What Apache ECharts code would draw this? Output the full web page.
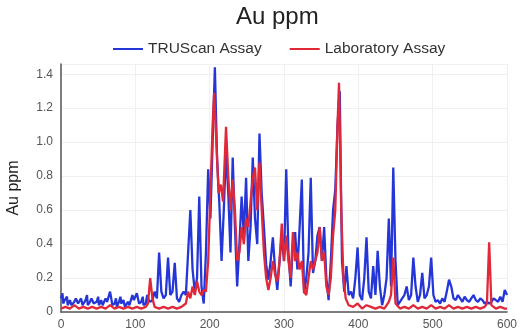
<!DOCTYPE html>
<html>
<head>
<meta charset="utf-8">
<script src="https://cdn.jsdelivr.net/npm/echarts@6/dist/echarts.min.js"></script>
<style>html,body{margin:0;padding:0;background:#fff}#c{width:528px;height:335px}</style>
</head>
<body>
<div id="c"></div>
<script>
var titleText = 'Au ppm';
var seriesNames = ['TRUScan Assay', 'Laboratory Assay'];
var xTicks = [0, 100, 200, 300, 400, 500, 600];
var yTicks = [0, 0.2, 0.4, 0.6, 0.8, 1.0, 1.2, 1.4];

var truscan = [
[0,0.08],[2,0.11],[3,0.05],[5,0.07],[6,0.06],[8,0.09],[9,0.04],[12,0.07],[14,0.04],[15,0.05],[18,0.06],[20,0.08],[21,0.09],[23,0.05],[24,0.06],[27,0.08],
[29,0.04],[30,0.05],[33,0.07],[35,0.1],[36,0.04],[39,0.06],[41,0.08],[42,0.09],[44,0.05],[45,0.05],[48,0.06],[50,0.09],[51,0.04],[54,0.07],[56,0.04],[57,0.05],
[60,0.08],[62,0.06],[63,0.05],[66,0.12],[68,0.07],[69,0.04],[72,0.05],[74,0.08],[75,0.03],[78,0.06],[80,0.09],[81,0.05],[84,0.07],[86,0.03],[87,0.04],
[90,0.06],[92,0.04],[93,0.05],[96,0.1],[98,0.07],[99,0.06],[102,0.11],[104,0.07],[105,0.05],[108,0.06],[110,0.09],[111,0.04],[114,0.05],[116,0.1],[117,0.08],
[120,0.06],[123,0.07],[126,0.12],[129,0.08],[132,0.35],[135,0.12],[138,0.08],[141,0.1],[144,0.32],[147,0.1],
[150,0.12],[153,0.29],[156,0.08],[159,0.06],[162,0.1],[165,0.12],[168,0.1],[171,0.35],[174,0.6],[177,0.25],
[180,0.12],[183,0.2],[186,0.68],[189,0.15],[192,0.05],[195,0.35],[198,0.84],[201,0.55],[204,1.0],[207,1.44],
[210,0.9],[213,0.64],[216,0.3],[219,0.6],[222,0.95],[225,0.7],[228,0.35],[231,0.91],[234,0.5],[237,0.15],
[240,0.4],[243,0.68],[246,0.45],[249,0.79],[252,0.3],[255,0.5],[258,0.91],[261,0.55],[264,0.4],[267,1.05],
[270,0.7],[273,0.5],[276,0.28],[279,0.19],[282,0.3],[285,0.44],[288,0.25],[291,0.13],[294,0.3],[297,0.45],
[300,0.3],[303,0.84],[306,0.35],[309,0.15],[312,0.4],[315,0.47],[318,0.25],[321,0.5],[324,0.78],[327,0.11],
[330,0.2],[333,0.35],[336,0.79],[339,0.23],[342,0.3],[345,0.45],[348,0.5],[351,0.3],[354,0.5],[357,0.2],
[360,0.07],[363,0.3],[366,0.6],[369,0.72],[372,1.1],[375,1.3],[378,0.3],[381,0.12],[384,0.27],[387,0.1],
[390,0.12],[393,0.08],[396,0.2],[399,0.38],[402,0.1],[405,0.07],[408,0.2],[411,0.44],[414,0.12],[417,0.08],
[420,0.27],[423,0.1],[426,0.36],[429,0.15],[432,0.04],[435,0.1],[438,0.2],[441,0.55],[444,0.15],[447,0.85],
[450,0.3],[453,0.04],[456,0.06],[459,0.08],[462,0.1],[465,0.15],[468,0.07],[471,0.1],[474,0.32],[477,0.15],
[480,0.06],[483,0.1],[486,0.23],[489,0.08],[492,0.1],[495,0.15],[498,0.32],[501,0.1],[504,0.06],[507,0.07],
[510,0.05],[513,0.08],[516,0.06],[519,0.12],[522,0.19],[525,0.15],[528,0.08],[531,0.07],[534,0.1],[537,0.08],
[540,0.06],[543,0.09],[546,0.07],[549,0.06],[552,0.08],[555,0.1],[558,0.07],[561,0.06],[564,0.08],[567,0.07],
[570,0.05],[573,0.06],[576,0.05],[579,0.06],[582,0.08],[585,0.07],[588,0.06],[591,0.09],[594,0.06],[597,0.13],
[600,0.1]
];

var laboratory = [
[0,0.02],[6,0.03],[12,0.02],[18,0.04],[24,0.02],[30,0.03],[36,0.02],[42,0.03],[48,0.02],[54,0.03],
[60,0.02],[66,0.04],[72,0.02],[78,0.03],[84,0.02],[90,0.03],[96,0.02],[102,0.03],[108,0.02],[114,0.03],
[117,0.05],[120,0.2],[123,0.08],[126,0.03],[132,0.02],[138,0.03],[144,0.02],[150,0.03],[156,0.02],[162,0.03],
[168,0.05],[171,0.12],[174,0.08],[177,0.15],[180,0.1],[183,0.18],[186,0.12],[189,0.1],[192,0.13],[195,0.12],
[198,0.3],[201,0.7],[204,1.1],[206,1.29],[209,1.0],[212,0.7],[215,0.75],[218,0.65],[222,1.09],[225,0.8],
[228,0.6],[231,0.78],[234,0.6],[237,0.3],[240,0.35],[243,0.5],[246,0.4],[249,0.55],[252,0.5],[255,0.65],
[258,0.79],[261,0.85],[264,0.6],[267,0.88],[270,0.6],[273,0.35],[276,0.2],[279,0.13],[282,0.2],[285,0.3],
[288,0.22],[291,0.18],[294,0.3],[297,0.52],[300,0.3],[303,0.45],[306,0.3],[309,0.2],[312,0.47],[315,0.3],
[318,0.35],[321,0.25],[324,0.3],[327,0.12],[330,0.1],[333,0.2],[336,0.3],[339,0.25],[342,0.3],[345,0.35],
[348,0.5],[351,0.3],[354,0.35],[357,0.15],[360,0.1],[363,0.2],[366,0.45],[369,0.6],[372,1.1],[374,1.35],
[377,0.6],[380,0.2],[383,0.08],[387,0.04],[393,0.03],[399,0.05],[405,0.02],[411,0.04],[417,0.03],[423,0.02],
[429,0.03],[435,0.02],[441,0.06],[444,0.1],[447,0.32],[450,0.05],[456,0.02],[462,0.03],[468,0.02],[474,0.04],
[480,0.02],[486,0.03],[492,0.02],[498,0.04],[504,0.02],[510,0.03],[516,0.02],[522,0.04],[528,0.02],[534,0.03],
[540,0.02],[546,0.03],[552,0.02],[558,0.03],[564,0.02],[570,0.03],[573,0.05],[576,0.41],[579,0.04],[585,0.02],
[591,0.03],[597,0.02],[600,0.02]
];

var chart = echarts.init(document.getElementById('c'));
var font = 'Liberation Sans, Arial, sans-serif';
chart.setOption({
  animation: false,
  textStyle: { fontFamily: font },
  title: { text: titleText, left: 231, top: 0,
    textStyle: { fontSize: 24, fontWeight: 'normal', color: '#222', fontFamily: font } },
  legend: { top: 36, left: 108, itemWidth: 30, itemHeight: 2, itemGap: 28,
    icon: 'rect',
    textStyle: { fontSize: 15.5, color: '#333', fontFamily: font },
    data: seriesNames },
  grid: { left: 61, right: 21, top: 64, bottom: 23, containLabel: false, outerBoundsMode: 'none' },
  xAxis: { type: 'value', min: xTicks[0], max: xTicks[xTicks.length-1], interval: 100,
    axisLine: { lineStyle: { color: '#555', width: 1.5 } },
    axisTick: { show: false },
    axisLabel: { color: '#555', fontSize: 12, margin: 7, fontFamily: font },
    splitLine: { show: true, lineStyle: { color: '#f0f0f0' } } },
  yAxis: { type: 'value', min: 0, max: 1.46, interval: 0.2,
    name: 'Au ppm', nameLocation: 'middle', nameGap: 39,
    nameTextStyle: { fontSize: 16, color: '#222', fontFamily: font },
    axisLine: { show: true, lineStyle: { color: '#555', width: 1.5 } },
    axisTick: { show: false },
    axisLabel: { color: '#555', fontSize: 12, showMaxLabel: false, fontFamily: font,
      formatter: function (v) { return v === 0 ? '0' : v.toFixed(1); } },
    splitLine: { show: true, lineStyle: { color: '#f0f0f0' } } },
  series: [
    { name: seriesNames[0], type: 'line', data: truscan, symbol: 'none',
      lineStyle: { color: '#2436d8', width: 2.3 }, itemStyle: { color: '#2436d8' } },
    { name: seriesNames[1], type: 'line', data: laboratory, symbol: 'none',
      lineStyle: { color: '#e02838', width: 2.3 }, itemStyle: { color: '#e02838' } }
  ]
});
</script>
</body>
</html>
